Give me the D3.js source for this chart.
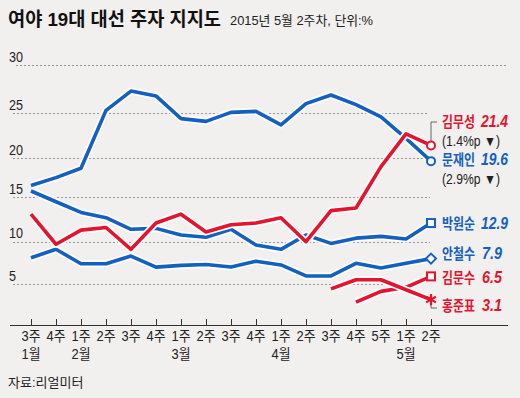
<!DOCTYPE html>
<html>
<head>
<meta charset="utf-8">
<script src="https://cdn.jsdelivr.net/npm/d3@7"></script>
<style>
  html, body { margin: 0; padding: 0; background: #f2f0ef; }
  svg { display: block; }
  text { font-family: "Liberation Sans", "Noto Sans CJK KR", sans-serif; }
</style>
</head>
<body>
<div id="chart"></div>
<script>
// x categories (weeks) and month labels under them
const weeks = ['3주', '4주', '1주', '2주', '3주', '4주', '1주', '2주', '3주',
    '4주', '1주', '2주', '3주', '4주', '5주', '1주', '2주'];
const months = ['1월', '', '2월', '', '', '', '3월', '', '', '',
    '4월', '', '', '', '', '5월', ''];

// y gridline values
const yTicks = [5, 10, 15, 20, 25, 30];

// series values (%), null where not polled
const ahnCheolSoo = [8.1, 9.1, 7.4, 7.4, 8.3, 7.0, 7.2, 7.3, 7.0, 7.7, 7.25,
    5.95, 5.95, 7.45, 6.9, 7.45, 8.0];
const parkWonSoon = [15.8, 14.5, 13.3, 12.7, 11.4, 11.5, 10.75, 10.5, 11.4,
    9.6, 9.1, 10.75, 9.8, 10.4, 10.6, 10.3, 12.1];
const moonJaeIn = [16.5, 17.5, 18.7, 25.3, 27.3, 26.8, 24.4, 24.1, 25.1, 25.2,
    23.7, 26.0, 26.9, 25.9, 24.6, 22.2, 19.6];
const kimMooSung = [13.1, 9.7, 11.3, 11.6, 9.1, 12.1, 13.1, 11.1, 11.9, 12.1,
    12.7, 10.0, 13.5, 13.8, 18.9, 22.7, 21.4];
const kimMoonSoo = [null, null, null, null, null, null, null, null, null, null,
    null, null, null, 2.8, 4.1, 4.6, 5.9];
const hongJoonPyo = [null, null, null, null, null, null, null, null, null, null,
    null, null, 4.4, 5.5, 5.5, 4.3, 3.1];

// end labels
const seriesNames = ['안철수', '박원순', '문재인', '김무성', '김문수', '홍준표'];
const latestValues = ['7.9', '12.9', '19.6', '21.4', '6.5', '3.1'];
const changeNotes = { '문재인': '(2.9%p ▼)', '김무성': '(1.4%p ▼)' };

const BLUE = '#1360c0';
const RED = '#e5132e';
const KR = '"Noto Sans CJK KR", sans-serif';

const width = 520;
const height = 398;

const series = [
  { name: '안철수', values: ahnCheolSoo, color: BLUE, marker: 'diamond', labelY: 259 },
  { name: '박원순', values: parkWonSoon, color: BLUE, marker: 'square', labelY: 229 },
  { name: '문재인', values: moonJaeIn, color: BLUE, marker: 'circle', labelY: 165 },
  { name: '김무성', values: kimMooSung, color: RED, marker: 'circle', labelY: 127 },
  { name: '김문수', values: kimMoonSoo, color: RED, marker: 'square', labelY: 283 },
  { name: '홍준표', values: hongJoonPyo, color: RED, marker: 'asterisk', labelY: 311 },
];

const svg = d3.select('#chart')
    .append('svg')
    .attr('width', width)
    .attr('height', height)
    .attr('viewBox', `0 0 ${width} ${height}`);

svg.append('rect')
    .attr('width', width)
    .attr('height', height)
    .attr('fill', '#f2f0ef');

/* Scales: the printed grid is not evenly spaced, so map each gridline */
const x = d3.scalePoint()
    .domain(d3.range(weeks.length))
    .range([31, 431]);

const y = d3.scaleLinear()
    .domain([0].concat(yTicks))
    .range([325, 284, 241.7, 197.3, 158, 113.3, 65]);

/* Title */
svg.append('text')
    .attr('x', 8)
    .attr('y', 26)
    .attr('font-family', KR)
    .attr('font-size', 19)
    .attr('font-weight', 'bold')
    .attr('fill', '#111')
    .attr('textLength', 213)
    .attr('lengthAdjust', 'spacingAndGlyphs')
    .text('여야 19대 대선 주자 지지도');

svg.append('text')
    .attr('x', 230)
    .attr('y', 25)
    .attr('font-size', 13)
    .attr('fill', '#222')
    .attr('textLength', 143)
    .attr('lengthAdjust', 'spacingAndGlyphs')
    .text('2015년 5월 2주차, 단위:%');

/* Grid */
const gridEnd = { 5: 405, 10: 430, 15: 430, 20: 430, 25: 428, 30: 508 };

const gridG = svg.append('g').attr('class', 'grid');
gridG.selectAll('line')
    .data(yTicks)
    .join('line')
    .attr('x1', d => d === 30 ? 16 : 13)
    .attr('x2', d => gridEnd[d])
    .attr('y1', d => Math.round(y(d)) + 0.5)
    .attr('y2', d => Math.round(y(d)) + 0.5)
    .attr('stroke', '#9a9896')
    .attr('stroke-width', 1)
    .attr('stroke-dasharray', '2,2');

gridG.selectAll('text')
    .data(yTicks)
    .join('text')
    .attr('x', 9)
    .attr('y', d => y(d) - 3.5)
    .attr('font-size', 15)
    .attr('fill', '#222')
    .attr('textLength', d => d < 10 ? 7 : 14)
    .attr('lengthAdjust', 'spacingAndGlyphs')
    .text(d => d);

/* X axis */
const axisG = svg.append('g').attr('class', 'x-axis');
axisG.append('line')
    .attr('x1', 10)
    .attr('x2', 508)
    .attr('y1', 325.5)
    .attr('y2', 325.5)
    .attr('stroke', '#333')
    .attr('stroke-width', 1.2);

axisG.selectAll('line.tick')
    .data(d3.range(weeks.length))
    .join('line')
    .attr('class', 'tick')
    .attr('x1', d => Math.round(x(d)) + 0.5)
    .attr('x2', d => Math.round(x(d)) + 0.5)
    .attr('y1', 319)
    .attr('y2', 325)
    .attr('stroke', '#333');

axisG.selectAll('text.week')
    .data(weeks)
    .join('text')
    .attr('class', 'week')
    .attr('x', (d, i) => x(i))
    .attr('y', 341)
    .attr('text-anchor', 'middle')
    .attr('font-size', 14)
    .attr('fill', '#222')
    .attr('textLength', 19)
    .attr('lengthAdjust', 'spacingAndGlyphs')
    .text(d => d);

axisG.selectAll('text.month')
    .data(months.map((m, i) => ({ m, i })).filter(d => d.m))
    .join('text')
    .attr('class', 'month')
    .attr('x', d => x(d.i))
    .attr('y', 359)
    .attr('text-anchor', 'middle')
    .attr('font-size', 14)
    .attr('fill', '#222')
    .attr('textLength', 19)
    .attr('lengthAdjust', 'spacingAndGlyphs')
    .text(d => d.m);

/* Lines, each with a white halo */
const line = d3.line()
    .defined(d => d != null)
    .x((d, i) => x(i))
    .y(d => y(d))
    .curve(d3.curveLinear);

const linesG = svg.append('g').attr('class', 'lines');
for (const s of series) {
  linesG.append('path')
      .attr('d', line(s.values))
      .attr('fill', 'none')
      .attr('stroke', '#fff')
      .attr('stroke-width', 7)
      .attr('stroke-linejoin', 'round');
  linesG.append('path')
      .attr('d', line(s.values))
      .attr('fill', 'none')
      .attr('stroke', s.color)
      .attr('stroke-width', 3.6)
      .attr('stroke-linejoin', 'round');
}

/* Leader lines for the two offset labels */
const last = weeks.length - 1;
const leader = svg.append('g').attr('stroke', '#666').attr('fill', 'none');
leader.append('path')
    .attr('d', `M${x(last)},${y(kimMooSung[last]) - 4} V122 H437`);
leader.append('path')
    .attr('d', `M${x(last)},${y(hongJoonPyo[last]) + 4} V308 H437`);

/* End markers */
const markerG = svg.append('g').attr('class', 'markers');
for (const s of series) {
  const cx = x(last);
  const cy = y(s.values[last]);
  const g = markerG.append('g').attr('transform', `translate(${cx},${cy})`);
  if (s.marker === 'circle') {
    g.append('circle').attr('r', 4)
        .attr('fill', '#fff').attr('stroke', s.color).attr('stroke-width', 2);
  } else if (s.marker === 'square') {
    g.append('rect').attr('x', -4).attr('y', -4).attr('width', 8).attr('height', 8)
        .attr('fill', '#fff').attr('stroke', s.color).attr('stroke-width', 2);
  } else if (s.marker === 'diamond') {
    g.append('path').attr('d', 'M0,-5L5,0L0,5L-5,0Z')
        .attr('fill', '#fff').attr('stroke', s.color).attr('stroke-width', 2);
  } else {
    g.append('path').attr('d', d3.symbol(d3.symbolAsterisk, 90)())
        .attr('fill', 'none').attr('stroke', s.color).attr('stroke-width', 2.2);
  }
}

/* End labels: name, then latest value */
const labelG = svg.append('g').attr('class', 'labels');
series.forEach(s => {
  const idx = seriesNames.indexOf(s.name);
  const value = latestValues[idx];

  labelG.append('text')
      .attr('x', 442)
      .attr('y', s.labelY)
      .attr('fill', s.color)
      .attr('font-family', KR)
      .attr('font-size', 15)
      .attr('font-weight', 'bold')
      .attr('textLength', 33)
      .attr('lengthAdjust', 'spacingAndGlyphs')
      .text(s.name);

  labelG.append('text')
      .attr('x', value.length > 3 ? 481 : 482)
      .attr('y', s.labelY)
      .attr('fill', s.color)
      .attr('font-size', 16)
      .attr('font-weight', 'bold')
      .attr('font-style', 'italic')
      .attr('textLength', value.length > 3 ? 27 : 20)
      .attr('lengthAdjust', 'spacingAndGlyphs')
      .text(value);

  if (changeNotes[s.name]) {
    labelG.append('text')
        .attr('x', 442)
        .attr('y', s.labelY + 19)
        .attr('font-size', 14)
        .attr('fill', '#222')
        .attr('textLength', 58)
        .attr('lengthAdjust', 'spacingAndGlyphs')
        .text(changeNotes[s.name]);
  }
});

/* Source */
svg.append('text')
    .attr('x', 8)
    .attr('y', 387)
    .attr('font-size', 13)
    .attr('fill', '#222')
    .text('자료:리얼미터');
</script>
</body>
</html>
